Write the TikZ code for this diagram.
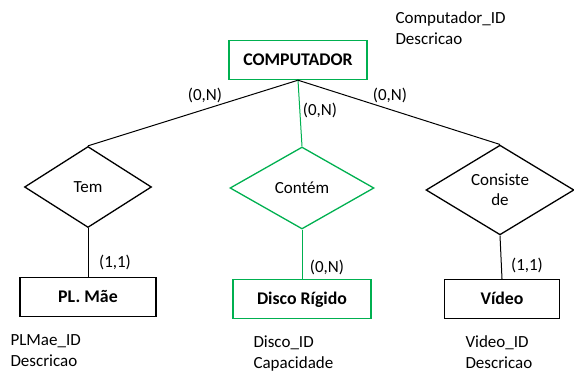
\documentclass[tikz,border=0pt]{standalone}
\usepackage{fontspec}
\setmainfont{Carlito}
\usetikzlibrary{shapes.geometric}
\definecolor{ergreen}{RGB}{0,176,80}

\tikzset{
	entity/.style={draw, rectangle, line width=1.4pt, minimum height=39pt, text depth=1pt, font=\fontsize{17.8}{20}\selectfont\bfseries},
	relation/.style={draw, diamond, line width=1.3pt, inner sep=0pt, align=center, font=\fontsize{17}{20}\selectfont},
	attrib/.style={anchor=north west, align=left, inner sep=0pt},
	card/.style={inner sep=0pt}
}

\begin{document}
\begin{tikzpicture}[x=1pt, y=-1pt, line width=1pt,
	font=\fontsize{17}{21}\selectfont]
	\useasboundingbox (0,0) rectangle (574,374);

	\node[entity, draw=ergreen, minimum width=138pt] (comp) at (298,60) {COMPUTADOR};
	\node[relation, minimum width=127pt, minimum height=81pt] (tem) at (88,187) {Tem};
	\node[relation, draw=ergreen, minimum width=144pt, minimum height=82pt] (contem) at (302,188) {Contém};
	\node[relation, minimum width=148pt, minimum height=82pt] (consiste) at (500,190) {Consiste\\de};
	\node[entity, minimum width=136pt] (plmae) at (88,297) {PL. Mãe};
	\node[entity, draw=ergreen, minimum width=138pt] (disco) at (302,299) {Disco Rígido};
	\node[entity, minimum width=115pt] (video) at (502,299) {Vídeo};

	\draw (comp.south) -- (tem.north);
	\draw[ergreen] (comp.south) -- (contem.north);
	\draw (comp.south) -- (consiste.north);
	\draw (tem.south) -- (plmae.north);
	\draw[ergreen] (contem.south) -- (disco.north);
	\draw (consiste.south) -- (video.north);

	\node[card] (c1) at (205,95) {(0,N)};
	\node[card] (c2) at (320,110) {(0,N)};
	\node[card] (c3) at (390,95) {(0,N)};
	\node[card] (c4) at (115,262) {(1,1)};
	\node[card] (c5) at (327,267) {(0,N)};
	\node[card] (c6) at (527,265) {(1,1)};

	\node[attrib] (acomp) at (395,11) {Computador\_ID\\Descricao};
	\node[attrib] (aplmae) at (10,334) {PLMae\_ID\\Descricao};
	\node[attrib] (adisco) at (253,335) {Disco\_ID\\Capacidade};
	\node[attrib] (avideo) at (465,335) {Video\_ID\\Descricao};
\end{tikzpicture}
\end{document}
